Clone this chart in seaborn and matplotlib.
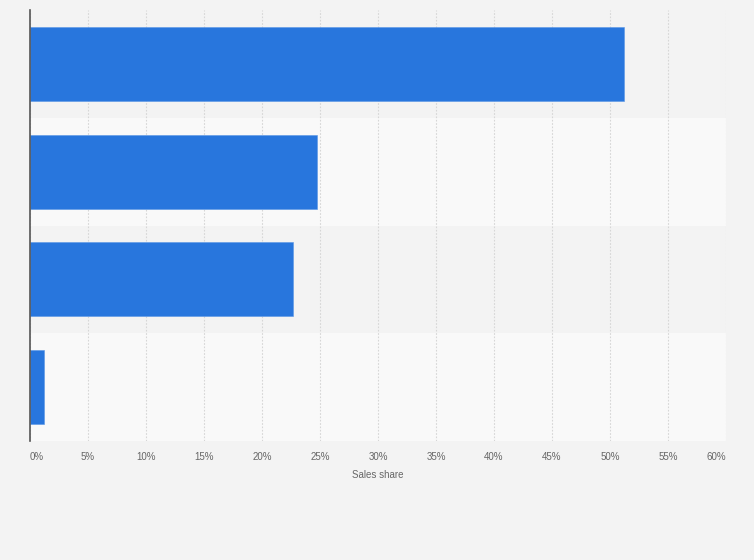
import matplotlib
matplotlib.use("Agg")
import matplotlib.pyplot as plt
import seaborn as sns
import pandas as pd

categories = ["Category 1", "Category 2", "Category 3", "Category 4"]
sales_share = [51.2, 24.7, 22.7, 1.2]
x_ticks = [0, 5, 10, 15, 20, 25, 30, 35, 40, 45, 50, 55, 60]
x_label = "Sales share"

df = pd.DataFrame({"category": categories, "share": sales_share})

sns.set_theme(style="white")
plt.rcParams['font.family'] = ['Liberation Sans', 'DejaVu Sans']

fig = plt.figure(figsize=(7.54, 5.6), dpi=100, facecolor="#f3f3f3")
ax = fig.add_axes([30/754, 1-441/560, (726-30)/754, (441-10)/560])
ax.set_facecolor("#f3f3f3")

for i in range(len(categories)):
    ax.axhspan(i-0.5, i+0.5, color="#f3f3f3" if i % 2 == 0 else "#f9f9f9", zorder=0, lw=0)

sns.barplot(data=df, x="share", y="category", orient="h", color="#2876dd",
            saturation=1, width=0.685, ax=ax, edgecolor="#5a96e6", linewidth=0.4, zorder=3)
ax.set_ylim(len(categories)-0.5, -0.5)
ax.set_xlim(0, 60)

ax.grid(axis="x", color="#d6d6d6", linestyle=(0, (1.5, 1.5)), linewidth=0.8, zorder=1)
ax.set_axisbelow(True)

ax.set_xticks(x_ticks)
tick_labels = ax.set_xticklabels([f"{t}%" for t in x_ticks])
tick_labels[0].set_horizontalalignment("left")
tick_labels[-1].set_horizontalalignment("right")
ax.tick_params(axis="x", labelsize=7, colors="#666666", length=0, pad=8)
ax.set_yticks(range(len(categories)))
ax.set_yticklabels([])
ax.tick_params(axis="y", length=0)
ax.set_ylabel("")
ax.set_xlabel(x_label, fontsize=7, color="#666666", labelpad=6)

for s in ["top", "right", "bottom"]:
    ax.spines[s].set_visible(False)
ax.spines["left"].set_color("#555555")
ax.spines["left"].set_linewidth(1.2)
ax.spines["left"].set_zorder(5)

fig.savefig("out.png", dpi=100, facecolor=fig.get_facecolor())
